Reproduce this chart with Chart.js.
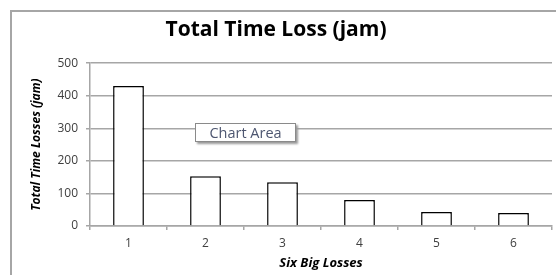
<!DOCTYPE html>
<html>
<head>
<meta charset="utf-8">
<script src="https://cdn.jsdelivr.net/npm/chart.js@4"></script>
<style>
  body { margin: 0; background: #fff; }
  #wrap { position: relative; width: 556px; height: 275px; overflow: hidden; }
  #frame { position: absolute; left: 10px; top: 10px; width: 600px; height: 300px;
           border-left: 2px solid #a6a6a6; border-top: 2px solid #a6a6a6; }
  canvas { position: absolute; left: 0; top: 0; }
  #tip { position: absolute; left: 195px; top: 123px; width: 99px; height: 17px;
         border: 1px solid #8a8a8a; background: #fff; box-shadow: 2px 2px 2px #9a9a9a;
         font: 14.5px "Open Sans", sans-serif; color: #4d5670; line-height: 17px; text-align: center; }
</style>
</head>
<body>
<div id="wrap">
  <div id="frame"></div>
  <canvas id="chart" width="556" height="275"></canvas>
  <div id="tip">Chart Area</div>
</div>
<script>
// DATOS
const categorias = ['1', '2', '3', '4', '5', '6'];
const valores = [430, 153, 134, 80, 43, 40];
const ticksY = [0, 100, 200, 300, 400, 500];

const gris = '#a6a6a6';
const fuente = "'Open Sans', sans-serif";

new Chart(document.getElementById('chart'), {
    type: 'bar',
    data: {
        labels: categorias,
        datasets: [{
            data: valores,
            backgroundColor: '#ffffff',
            borderColor: '#000000',
            borderWidth: 1.5,
            barPercentage: 0.4,
            categoryPercentage: 1
        }]
    },
    options: {
        responsive: false,
        animation: false,
        layout: { padding: { left: 0, right: 4, top: 0, bottom: 0 } },
        plugins: {
            legend: { display: false },
            tooltip: { enabled: false },
            title: {
                display: true,
                text: 'Total Time Loss (jam)',
                color: '#000',
                font: { family: fuente, size: 21, weight: 'bold' },
                padding: { top: 17, bottom: 21 }
            }
        },
        scales: {
            y: {
                min: 0,
                max: 500,
                afterBuildTicks: s => { s.ticks = ticksY.map(v => ({ value: v })); },
                afterFit: s => { s.width = 90; },
                grid: { color: gris, lineWidth: 1.5, tickLength: 4 },
                border: { color: gris, width: 1.5 },
                ticks: { color: '#404040', font: { family: fuente, size: 12 }, padding: 8 },
                title: {
                    display: true,
                    text: 'Total Time Losses (jam)',
                    color: '#000',
                    font: { family: fuente, size: 12, style: 'italic', weight: 'bold' },
                    padding: { top: 29, bottom: 4 }
                }
            },
            x: {
                afterFit: s => { s.height = 49; },
                grid: { offset: true, drawOnChartArea: false, color: gris, lineWidth: 1.5, tickLength: 4 },
                border: { color: gris, width: 1.5 },
                ticks: { color: '#404040', font: { family: fuente, size: 12 }, padding: 6 },
                title: {
                    display: true,
                    text: 'Six Big Losses',
                    color: '#000',
                    font: { family: fuente, size: 13, style: 'italic', weight: 'bold' },
                    padding: { top: 0 }
                }
            }
        }
    }
});
</script>
</body>
</html>
